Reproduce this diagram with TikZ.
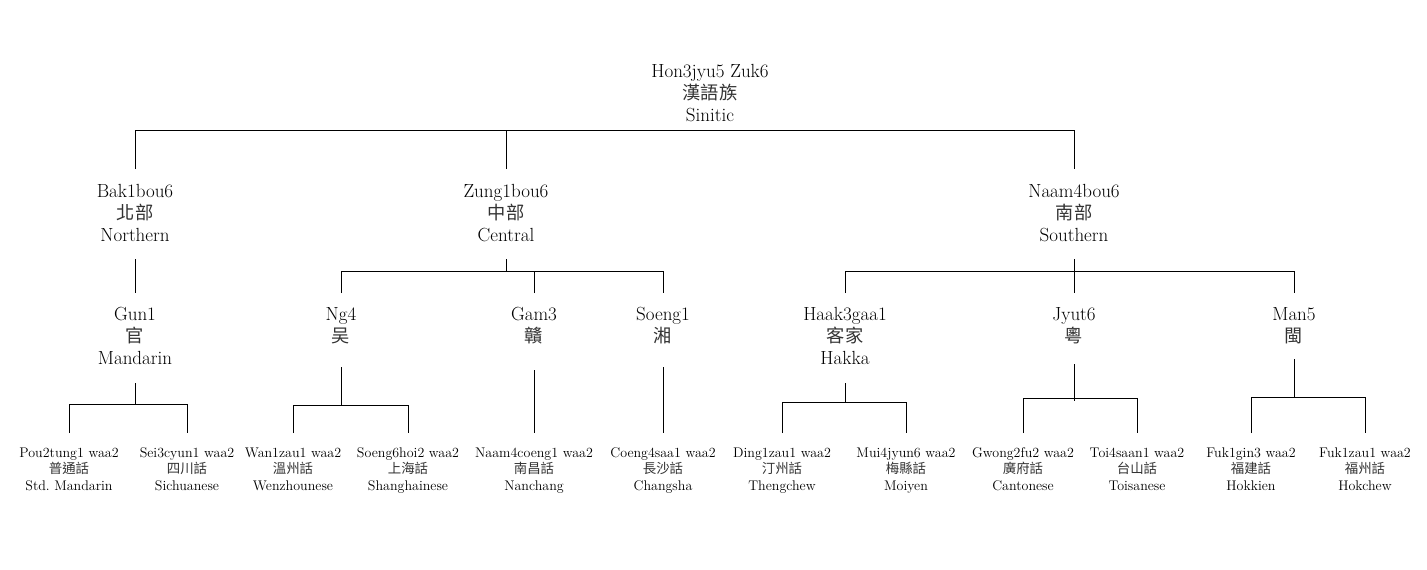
\documentclass[tikz,border=0pt]{standalone}
\usepackage{fontspec}
\newfontfamily\zhfont[Scale=0.96]{Noto Sans CJK TC}
\newcommand{\zh}[1]{{\zhfont\color{black!80}#1}}
\newcommand{\bigf}{\fontsize{19}{22}\selectfont\lineskiplimit=-50pt\relax}
\newcommand{\smallf}{\fontsize{14}{16.5}\selectfont\lineskiplimit=-50pt\relax}
\begin{document}
\begin{tikzpicture}[x=1pt,y=-1pt,
  big/.style={align=center, inner sep=0pt, anchor=base, font=\bigf},
  small/.style={align=center, inner sep=0pt, anchor=base, font=\smallf},
  link/.style={line width=1pt, black}]
\fill[white] (0,0) rectangle (1427,570);
\useasboundingbox (0,0) rectangle (1427,570);

% nodes are placed at the baseline of their last line
% root
\node[big] (root) at (710,121) {Hon3jyu5 Zuk6\\\zh{漢語族}\\Sinitic};
% level 1
\node[big] (bak)  at (135,241)  {Bak1bou6\\\zh{北部}\\Northern};
\node[big] (zung) at (506,241)  {Zung1bou6\\\zh{中部}\\Central};
\node[big] (naam) at (1074,241) {Naam4bou6\\\zh{南部}\\Southern};
% level 2
\node[big] (gun)   at (135,364)  {Gun1\\\zh{官}\\Mandarin};
\node[big] (ng)    at (341,342)  {Ng4\\\zh{吴}};
\node[big] (gam)   at (534,342)  {Gam3\\\zh{贛}};
\node[big] (soeng) at (663,342)  {Soeng1\\\zh{湘}};
\node[big] (haak)  at (845,364)  {Haak3gaa1\\\zh{客家}\\Hakka};
\node[big] (jyut)  at (1074,342) {Jyut6\\\zh{粵}};
\node[big] (man)   at (1294,342) {Man5\\\zh{閩}};
% level 3
\node[small] (pou)  at (69,490)   {Pou2tung1 waa2\\\zh{普通話}\\Std.\ Mandarin};
\node[small] (sei)  at (187,490)  {Sei3cyun1 waa2\\\zh{四川話}\\Sichuanese};
\node[small] (wan)  at (293,490)  {Wan1zau1 waa2\\\zh{溫州話}\\Wenzhounese};
\node[small] (shg)  at (408,490)  {Soeng6hoi2 waa2\\\zh{上海話}\\Shanghainese};
\node[small] (nc)   at (534,490)  {Naam4coeng1 waa2\\\zh{南昌話}\\Nanchang};
\node[small] (cs)   at (663,490)  {Coeng4saa1 waa2\\\zh{長沙話}\\Changsha};
\node[small] (ding) at (782,490)  {Ding1zau1 waa2\\\zh{汀州話}\\Thengchew};
\node[small] (mui)  at (906,490)  {Mui4jyun6 waa2\\\zh{梅縣話}\\Moiyen};
\node[small] (gw)   at (1023,490) {Gwong2fu2 waa2\\\zh{廣府話}\\Cantonese};
\node[small] (toi)  at (1137,490) {Toi4saan1 waa2\\\zh{台山話}\\Toisanese};
\node[small] (fgin) at (1251,490) {Fuk1gin3 waa2\\\zh{福建話}\\Hokkien};
\node[small] (fzau) at (1365,490) {Fuk1zau1 waa2\\\zh{福州話}\\Hokchew};

% root -> level 1
\draw[link] ([yshift=72pt]bak.base) -- ([yshift=111pt]bak.base) -- ([yshift=111pt]naam.base) -- ([yshift=72pt]naam.base);
\draw[link] ([yshift=72pt]zung.base) -- ([yshift=111pt]zung.base);

% level 1 -> level 2
\draw[link] ([yshift=-18pt]bak.base) -- ([yshift=71pt]gun.base);
\draw[link] ([yshift=-18pt]zung.base) -- ([yshift=-30pt]zung.base);
\draw[link] ([yshift=49pt]ng.base) -- ([yshift=71pt]ng.base) -- ([yshift=71pt]soeng.base) -- ([yshift=49pt]soeng.base);
\draw[link] ([yshift=49pt]gam.base) -- ([yshift=71pt]gam.base);
\draw[link] ([yshift=-18pt]naam.base) -- ([yshift=49pt]jyut.base);
\draw[link] ([yshift=71pt]haak.base) -- ([yshift=93pt]haak.base) -- ([yshift=71pt]man.base) -- ([yshift=49pt]man.base);

% level 2 -> level 3
\draw[link] ([yshift=-19pt]gun.base) -- ([yshift=86pt]gun.base |- pou.base);
\draw[link] ([yshift=57pt]pou.base) -- ([yshift=86pt]pou.base) -- ([yshift=86pt]sei.base) -- ([yshift=57pt]sei.base);

\draw[link] ([yshift=-25pt]ng.base) -- ([yshift=85pt]ng.base |- wan.base);
\draw[link] ([yshift=57pt]wan.base) -- ([yshift=85pt]wan.base) -- ([yshift=85pt]shg.base) -- ([yshift=57pt]shg.base);

\draw[link] ([yshift=-28pt]gam.base) -- ([yshift=57pt]nc.base);
\draw[link] ([yshift=-25pt]soeng.base) -- ([yshift=57pt]cs.base);

\draw[link] ([yshift=-19pt]haak.base) -- ([yshift=88pt]haak.base |- ding.base);
\draw[link] ([yshift=57pt]ding.base) -- ([yshift=88pt]ding.base) -- ([yshift=88pt]mui.base) -- ([yshift=57pt]mui.base);

\draw[link] ([yshift=-22pt]jyut.base) -- ([yshift=89pt]jyut.base |- gw.base);
\draw[link] ([yshift=57pt]gw.base) -- ([yshift=92pt]gw.base) -- ([yshift=92pt]toi.base) -- ([yshift=57pt]toi.base);

\draw[link] ([yshift=-17pt]man.base) -- ([yshift=93pt]man.base |- fgin.base);
\draw[link] ([yshift=57pt]fgin.base) -- ([yshift=93pt]fgin.base) -- ([yshift=93pt]fzau.base) -- ([yshift=57pt]fzau.base);
\end{tikzpicture}
\end{document}
